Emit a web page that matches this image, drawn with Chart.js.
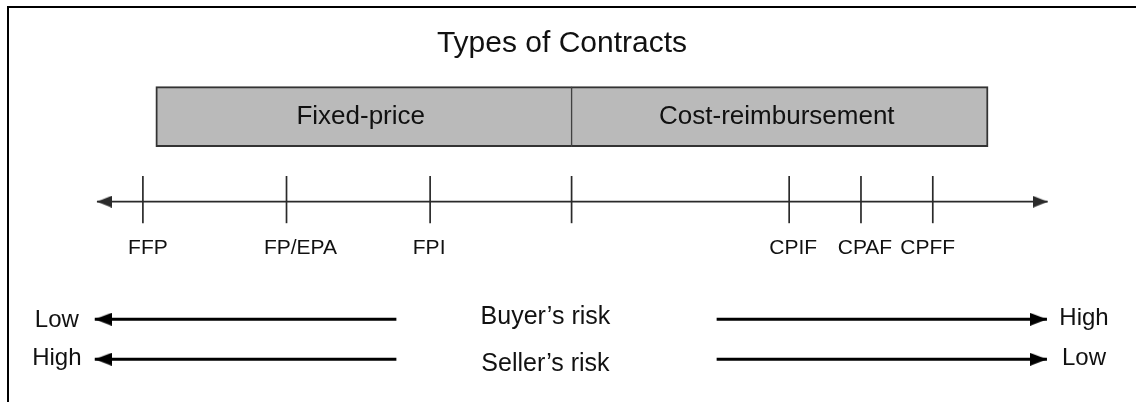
<!DOCTYPE html>
<html>
<head>
<meta charset="utf-8">
<script src="https://cdn.jsdelivr.net/npm/chart.js@4"></script>
<style>
  html, body { margin: 0; padding: 0; background: #fff; }
  #wrap { position: relative; width: 1136px; height: 402px; overflow: hidden; }
  #wrap canvas { position: absolute; left: 0; top: 0; }
  #frame { position: absolute; left: 7px; top: 6px; right: -10px; bottom: -10px;
           border-left: 2px solid #000; border-top: 2px solid #000; pointer-events: none; }
</style>
</head>
<body>
<div id="wrap">
  <canvas id="c" width="1136" height="402"></canvas>
  <div id="frame"></div>
</div>
<script>
// ---------------- data ----------------
// position of each contract type on the risk continuum (abstract units)
const contractTypes    = ['FFP', 'FP/EPA', 'FPI', 'CPIF', 'CPAF', 'CPFF'];
const contractPosition = [0, 2, 4, 9, 10, 11];
// contract families and the span they cover on the continuum
const familyNames  = ['Fixed-price', 'Cost-reimbursement'];
const familyStart  = [0.18, 5.97];
const familyEnd    = [5.97, 11.77];
const familyBoundary = [5.97];
// extent of the continuum arrow
const continuumEnds = [-0.64, 12.60];
// risk rows
const riskNames       = ["Buyer\u2019s risk", "Seller\u2019s risk"];
const riskLeftLevel   = ['Low', 'High'];
const riskRightLevel  = ['High', 'Low'];
const riskArrowLeft   = [-0.67, 3.53];   // tip, tail
const riskArrowRight  = [7.99, 12.59];   // tail, tip
const chartTitle = 'Types of Contracts';

// ---------------- layout / styles ----------------
const X_MIN = -1.99, X_MAX = 13.83;          // continuum units across the page
const ROW = { title: 52, family: 116.7, line: 201.7, tick: 199.6, tickLabel: 254,
              risk: [319.3, 359.3] };
const FONT = '"Liberation Sans", Arial, Helvetica, sans-serif';
const INK = '#111';
const tickLabelNudgePx = [5, 14, -1, 4, 4, -5];

function arrowHead(len, h, color) {
  const c = document.createElement('canvas');
  c.width = len * 2; c.height = h;
  const g = c.getContext('2d');
  g.fillStyle = color;
  g.beginPath();
  g.moveTo(len, h / 2);   // tip sits at the canvas centre (= data point)
  g.lineTo(0, 0);
  g.lineTo(0, h);
  g.closePath();
  g.fill();
  return c;
}
const headSmall = arrowHead(15, 12, '#2a2a2a');
const headBig   = arrowHead(17, 13, '#000');

function arrowDataset(pts, color, width, head, rotations, heads) {
  return {
    type: 'line',
    data: pts,
    borderColor: color,
    backgroundColor: color,
    borderWidth: width,
    borderCapStyle: 'butt',
    pointStyle: c => heads[c.dataIndex] ? head : 'circle',
    pointRadius: c => heads[c.dataIndex] ? 1 : 0,
    pointHoverRadius: c => heads[c.dataIndex] ? 1 : 0,
    pointRotation: c => rotations[c.dataIndex],
    pointBorderWidth: 0,
    tension: 0,
    order: 1
  };
}

const datasets = [];

// contract families as floating horizontal bars
datasets.push({
  type: 'bar',
  indexAxis: 'y',
  data: familyNames.map((n, i) => ({ x: [familyStart[i], familyEnd[i]], y: ROW.family })),
  backgroundColor: '#bababa',
  borderColor: '#333',
  borderWidth: c => c.dataIndex === 0 ? { left: 2, top: 2, bottom: 2, right: 1 }
                                      : { left: 1, top: 2, bottom: 2, right: 2 },
  borderSkipped: false,
  barThickness: 60,
  grouped: false,
  order: 5
});

// continuum line with arrowheads at both ends
datasets.push(arrowDataset(
  continuumEnds.map(u => ({ x: u, y: ROW.line })), '#2a2a2a', 1.7, headSmall, [180, 0], [true, true]));

// tick marks for contract types and family boundary
datasets.push({
  type: 'scatter',
  data: contractPosition.concat(familyBoundary).map(u => ({ x: u, y: ROW.tick })),
  pointStyle: 'line',
  pointRotation: 90,
  pointRadius: 23.6,
  pointHoverRadius: 23.6,
  borderColor: '#2a2a2a',
  pointBorderWidth: 1.7,
  borderWidth: 1.7,
  order: 0
});

// risk arrows
riskNames.forEach((name, i) => {
  const yv = ROW.risk[i];
  datasets.push(arrowDataset([{ x: riskArrowLeft[1], y: yv }, { x: riskArrowLeft[0], y: yv }],
    '#000', 3, headBig, [0, 180], [false, true]));
  datasets.push(arrowDataset([{ x: riskArrowRight[0], y: yv }, { x: riskArrowRight[1], y: yv }],
    '#000', 3, headBig, [0, 0], [false, true]));
});

// ---------------- text plugin ----------------
const diagramText = {
  id: 'diagramText',
  afterDatasetsDraw(chart) {
    const { ctx, scales: { x, y } } = chart;
    const put = (txt, px, py, size, color = INK) => {
      ctx.font = `${size}px ${FONT}`;
      ctx.textAlign = 'center';
      ctx.textBaseline = 'alphabetic';
      ctx.fillStyle = color;
      ctx.fillText(txt, px, py);
    };
    ctx.save();
    // title
    put(chartTitle, x.getPixelForValue(5.836), y.getPixelForValue(ROW.title), 30);
    // family labels centred in their bars
    const bars = chart.getDatasetMeta(0).data;
    bars.forEach((b, i) => {
      const c = b.getCenterPoint();
      put(familyNames[i], c.x - 3, c.y + 7.6, 26);
    });
    // contract labels under ticks
    contractTypes.forEach((t, i) => {
      put(t, x.getPixelForValue(contractPosition[i]) + tickLabelNudgePx[i],
          y.getPixelForValue(ROW.tickLabel), 21);
    });
    // risk rows
    const leftBase = [326.8, 365.3], rightBase = [325.2, 365.2], midBase = [324.2, 370.8];
    riskNames.forEach((n, i) => {
      put(riskLeftLevel[i], x.getPixelForValue(-1.198), y.getPixelForValue(leftBase[i]), 24);
      put(riskRightLevel[i], x.getPixelForValue(13.106), y.getPixelForValue(rightBase[i]), 24);
      put(n, x.getPixelForValue(5.606), y.getPixelForValue(midBase[i]), 25);
    });
    ctx.restore();
  }
};

new Chart(document.getElementById('c'), {
  data: { datasets },
  options: {
    responsive: false,
    animation: false,
    events: [],
    layout: { padding: 0, autoPadding: false },
    plugins: { legend: { display: false }, tooltip: { enabled: false }, title: { display: false } },
    scales: {
      x: { type: 'linear', min: X_MIN, max: X_MAX, offset: false, display: false },
      y: { type: 'linear', min: 0, max: 402, reverse: true, offset: false, display: false }
    }
  },
  plugins: [diagramText]
});
</script>
</body>
</html>
